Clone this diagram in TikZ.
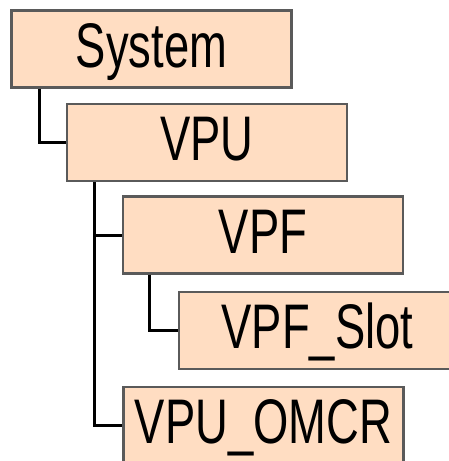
\documentclass[tikz,border=0pt]{standalone}
\usepackage{fontspec}
\setmainfont[FakeStretch=0.72]{Liberation Sans}
\definecolor{boxfill}{RGB}{255,221,194}
\definecolor{boxline}{RGB}{90,90,90}
\begin{document}
\begin{tikzpicture}[x=1pt,y=-1pt,
  box/.style={draw=boxline, line width=2.2pt, fill=boxfill, rectangle,
    minimum width=280pt, minimum height=77pt, inner sep=0pt,
    text height=45pt, text depth=9pt,
    font=\fontsize{63}{70}\selectfont},
  conn/.style={line width=3pt, black}]
\useasboundingbox (0,0) rectangle (448,461);
\node[box] (sys) at (151.5,49) {System};
\node[box] (vpu) at (207,142.5) {VPU};
\node[box] (vpf) at (263,235) {VPF};
\node[box, minimum width=277pt] (slot) at (317.5,330.5) {VPF\_Slot};
\node[box] (omcr) at (263.5,425.5) {VPU\_OMCR};
\draw[conn] ([xshift=29pt]sys.south west) |- (vpu.west);
\draw[conn] ([xshift=29pt]vpu.south west) |- (vpf.west);
\draw[conn] ([xshift=29pt]vpu.south west) |- (omcr.west);
\draw[conn] ([xshift=28pt]vpf.south west) |- (slot.west);
\end{tikzpicture}
\end{document}
